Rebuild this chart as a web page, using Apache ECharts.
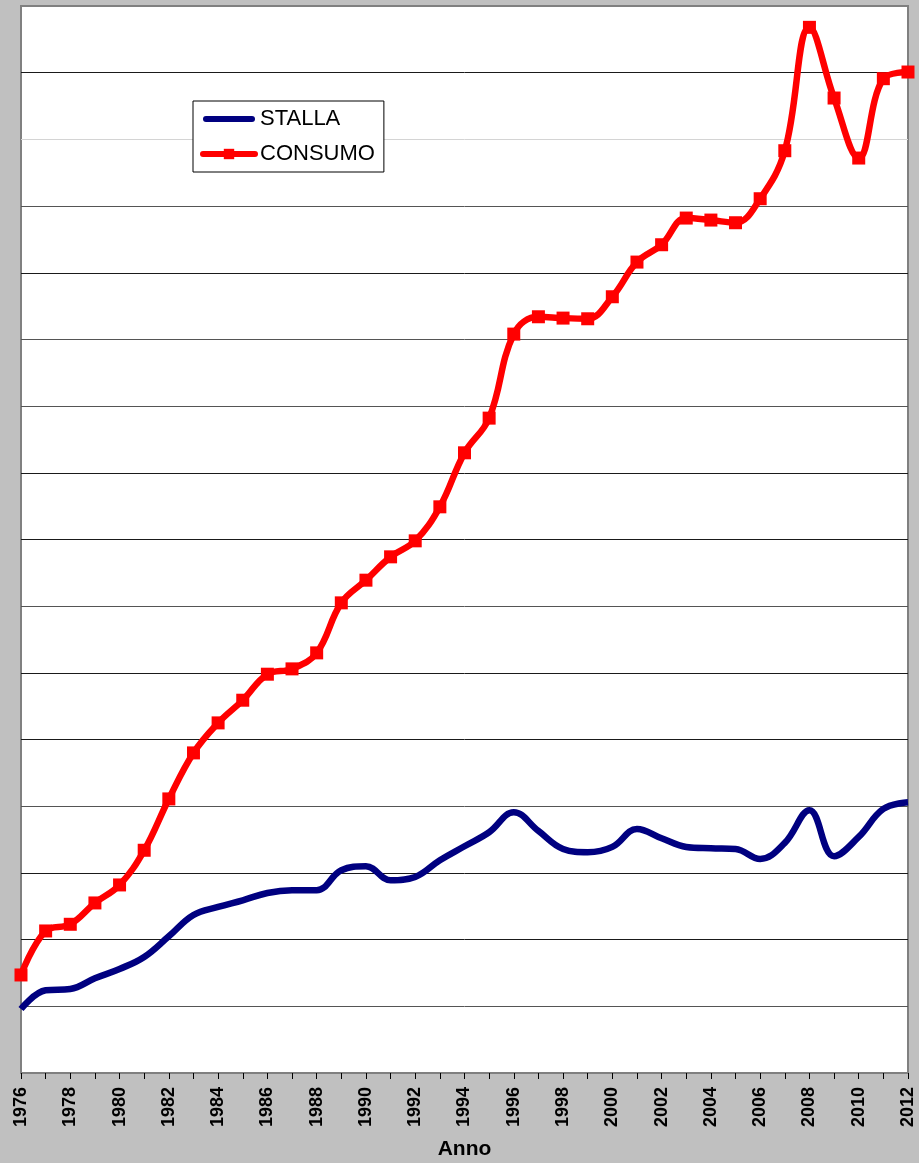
<!DOCTYPE html>
<html>
<head>
<meta charset="utf-8">
<script src="https://cdn.jsdelivr.net/npm/echarts@6/dist/echarts.min.js"></script>
<style>
  html, body { margin: 0; padding: 0; background: #c0c0c0; }
  #chart { width: 919px; height: 1163px; }
</style>
</head>
<body>
<div id="chart"></div>
<script>
// Prezzo del latte (centesimi di euro al litro), 1976-2012
const anni = [];
for (let a = 1976; a <= 2012; a++) anni.push(String(a));

const stalla = [
  9.6, 12.4, 12.6, 14.2, 15.6, 17.4, 20.5, 23.7, 24.9, 25.9,
  27.0, 27.4, 27.4, 30.4, 31.0, 28.9, 29.4, 31.9, 34.0, 36.1,
  39.1, 36.3, 33.6, 33.1, 33.9, 36.6, 35.2, 33.9, 33.7, 33.6,
  32.1, 34.5, 39.4, 32.5, 35.4, 39.6, 40.6
];

const consumo = [
  14.7, 21.3, 22.3, 25.5, 28.2, 33.4, 41.1, 48.0, 52.5, 55.9,
  59.8, 60.6, 63.0, 70.5, 73.9, 77.4, 79.8, 84.9, 93.0, 98.2,
  110.8, 113.4, 113.2, 113.1, 116.4, 121.6, 124.2, 128.2, 127.9, 127.5,
  131.1, 138.3, 156.8, 146.2, 137.2, 149.1, 150.1
];

// horizontal grid line colours, bottom to top
const gridColors = [
  '#808080', '#555555', '#1a1a1a', '#1a1a1a', '#555555', '#1a1a1a', '#1a1a1a',
  '#555555', '#1a1a1a', '#1a1a1a', '#555555', '#555555', '#1a1a1a', '#555555',
  '#d4d4d4', '#1a1a1a', '#808080'
];

const chart = echarts.init(document.getElementById('chart'), null, { renderer: 'canvas' });

chart.setOption({
  backgroundColor: '#c0c0c0',
  animation: false,
  textStyle: { fontFamily: 'Liberation Sans, Arial, sans-serif' },
  grid: {
    left: 21, right: 11, top: 6, bottom: 90,
    outerBoundsMode: 'none',
    containLabel: false,
    show: true,
    backgroundColor: '#ffffff',
    borderColor: '#808080',
    borderWidth: 2
  },
  legend: {
    orient: 'vertical',
    left: 193, top: 101,
    padding: [6, 9, 6, 7],
    itemGap: 11,
    itemWidth: 52,
    itemHeight: 13,
    itemTextGap: 4,
    backgroundColor: '#ffffff',
    borderColor: '#000000',
    borderWidth: 1,
    borderRadius: 0,
    lineStyle: { width: 6, cap: 'round' },
    textStyle: { fontSize: 22, color: '#000', lineHeight: 24, fontFamily: 'Liberation Sans, Arial, sans-serif' },
    data: [
      { name: 'STALLA', icon: 'path://M3,0H49A3,3 0 0 1 49,6H3A3,3 0 0 1 3,0Z' },
      { name: 'CONSUMO' }
    ]
  },
  xAxis: {
    type: 'category',
    data: anni,
    boundaryGap: false,
    name: 'Anno',
    nameLocation: 'middle',
    nameGap: 66,
    nameTextStyle: { fontSize: 21, fontWeight: 'bold', color: '#000' },
    axisLine: { show: true, lineStyle: { color: '#808080', width: 2 } },
    axisTick: { show: true, interval: 0, length: 6, lineStyle: { color: '#000', width: 1 } },
    axisLabel: {
      interval: 1,
      rotate: 90,
      margin: 14,
      fontSize: 18,
      fontWeight: 'bold',
      color: '#000'
    },
    splitLine: { show: false }
  },
  yAxis: {
    type: 'value',
    min: 0, max: 160, interval: 10,
    axisLine: { show: false },
    axisTick: { show: false },
    axisLabel: { show: false },
    splitLine: { show: true, lineStyle: { color: gridColors, width: 1 } }
  },
  series: [
    {
      name: 'STALLA',
      type: 'line',
      data: stalla,
      smooth: 0.4,
      symbol: 'none',
      color: '#000080',
      lineStyle: { color: '#000080', width: 6.5 },
      z: 3
    },
    {
      name: 'CONSUMO',
      type: 'line',
      data: consumo,
      smooth: 0.4,
      symbol: 'rect',
      symbolSize: 13,
      showAllSymbol: true,
      color: '#ff0000',
      itemStyle: { color: '#ff0000' },
      lineStyle: { color: '#ff0000', width: 6.5 },
      clip: false,
      z: 4
    }
  ]
});
</script>
</body>
</html>
